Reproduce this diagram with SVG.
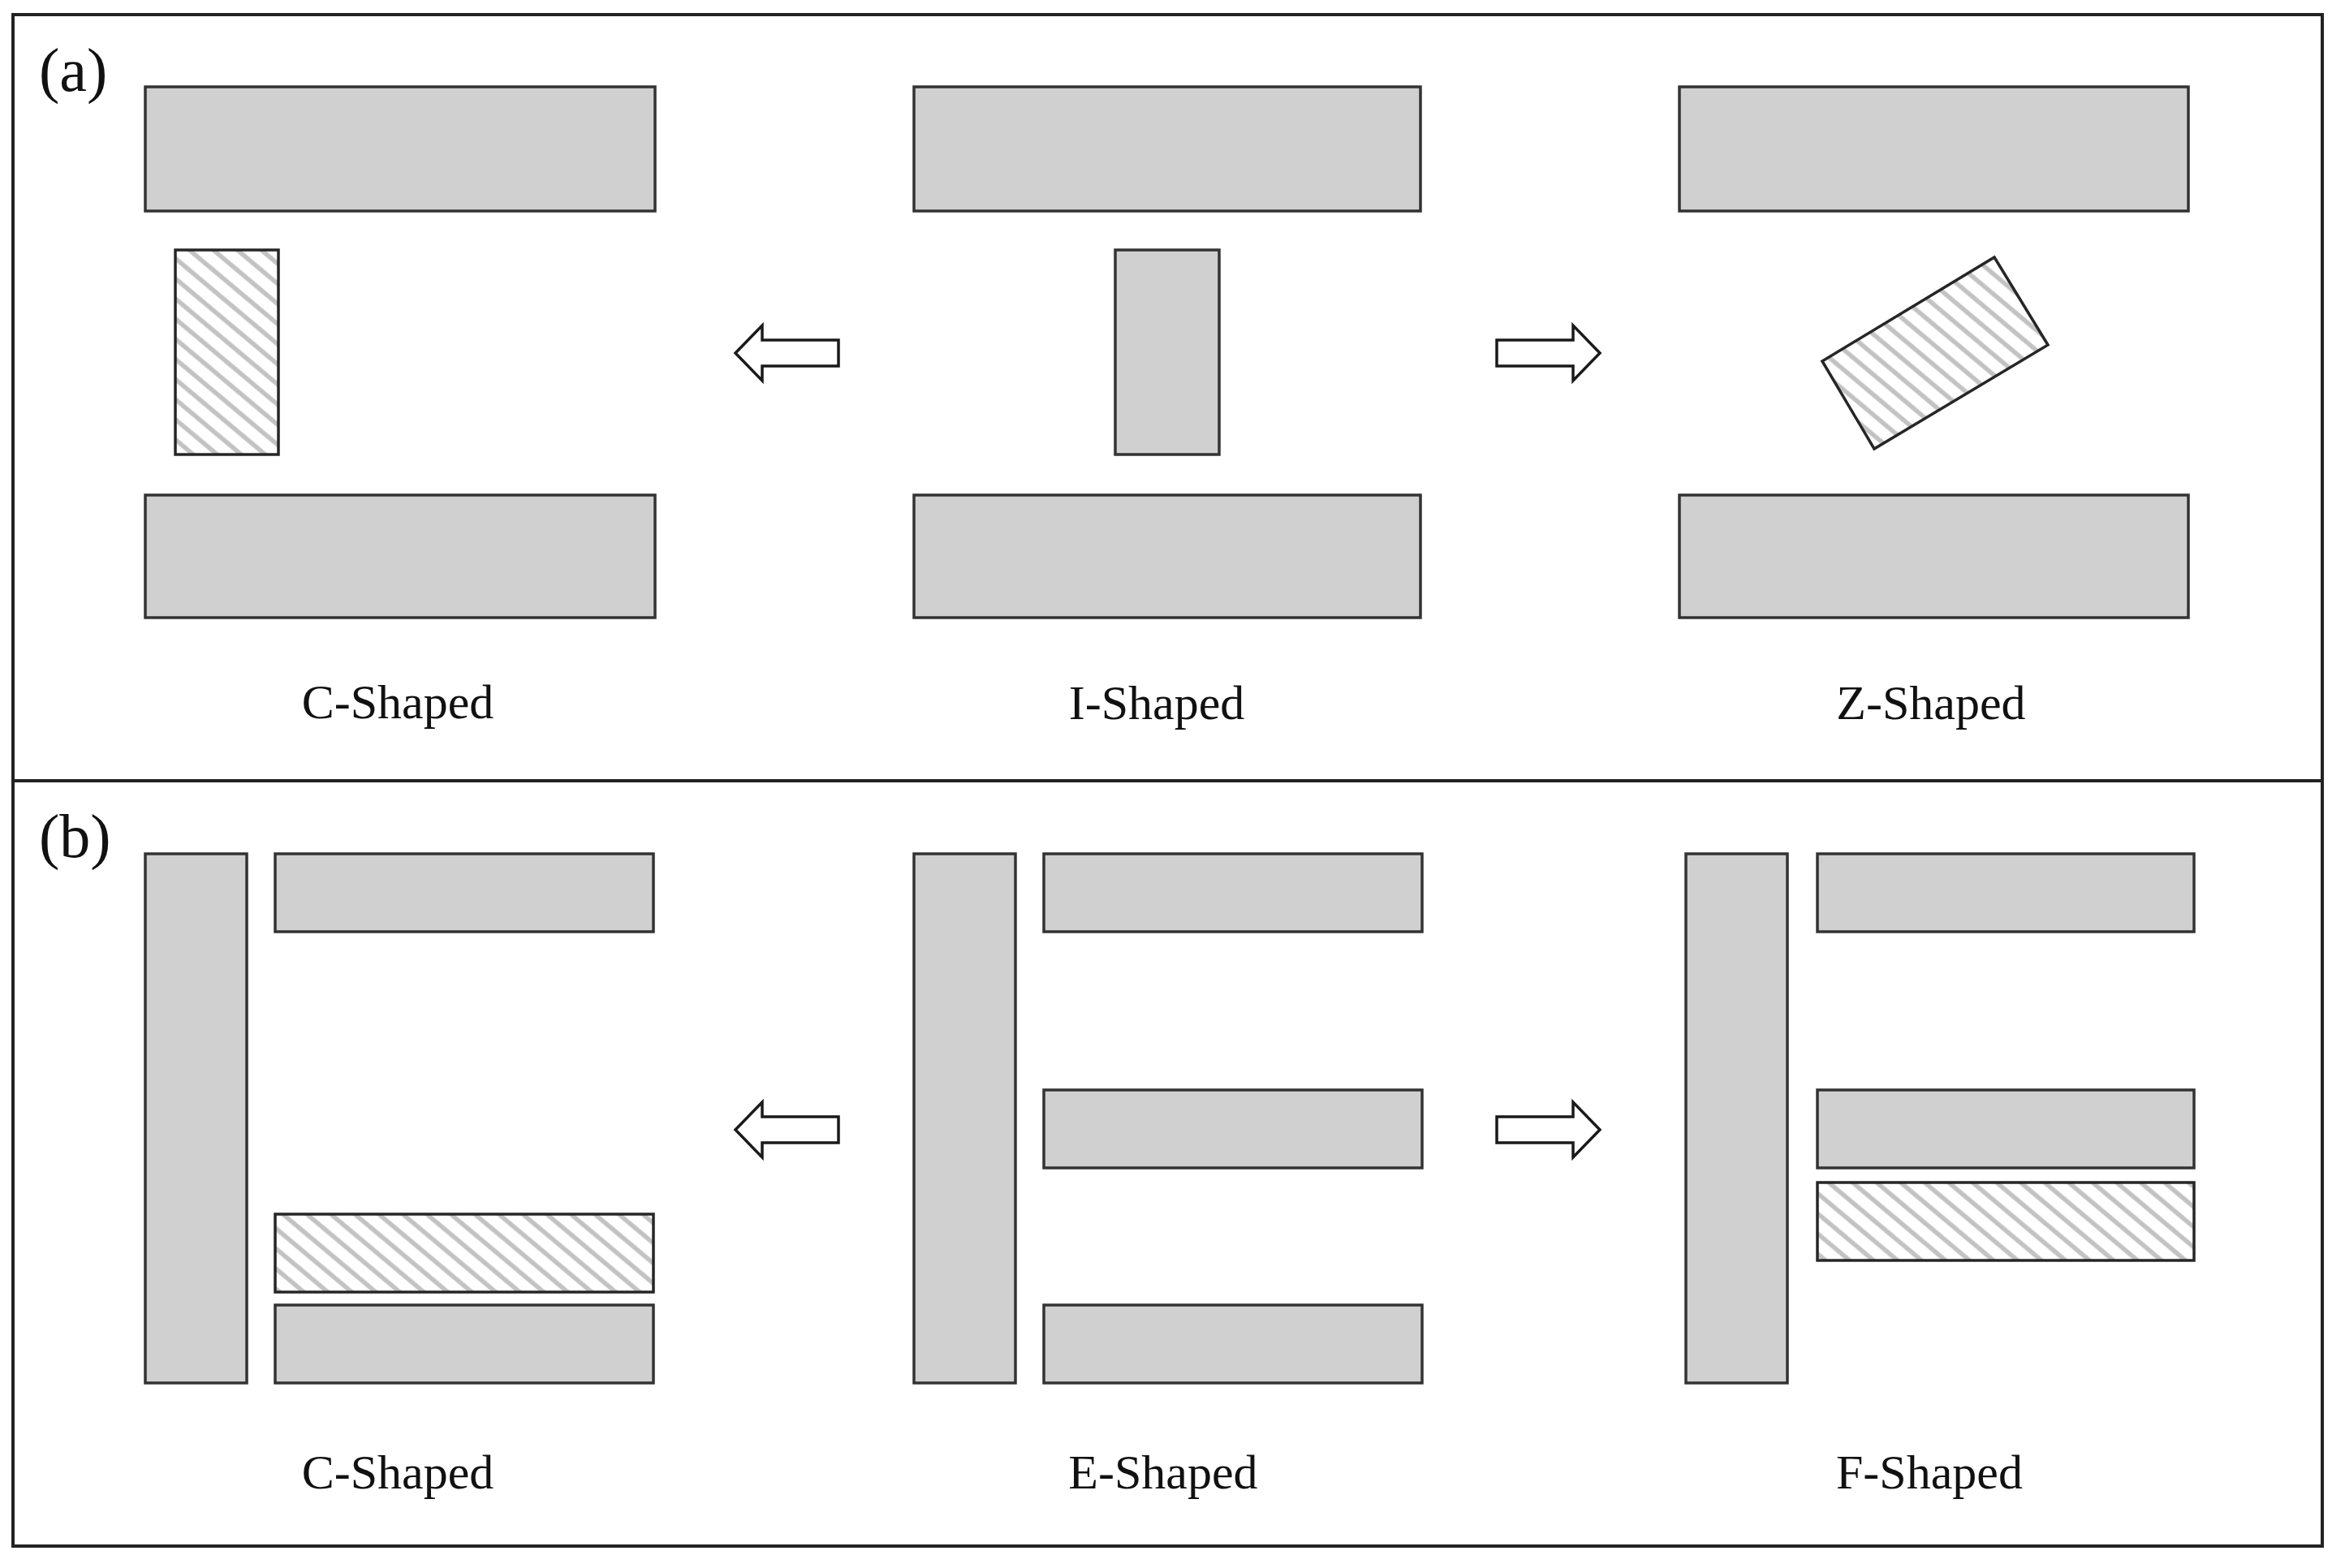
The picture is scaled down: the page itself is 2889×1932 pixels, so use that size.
<svg xmlns="http://www.w3.org/2000/svg" width="2889" height="1932" viewBox="0 0 2889 1932">
<defs>
<pattern id="hatch" patternUnits="userSpaceOnUse" width="19" height="19" patternTransform="rotate(-50)">
<rect width="19" height="19" fill="#ffffff"/>
<line x1="9" y1="0" x2="9" y2="19" stroke="#c2c2c2" stroke-width="5.5"/>
</pattern>
<polygon id="arrowL" points="0,0 33,-34 33,-16 127,-16 127,16 33,16 33,34"/>
<polygon id="arrowR" points="0,0 -33,-34 -33,-16 -127,-16 -127,16 -33,16 -33,34"/>
</defs>
<style>
.blk{fill:#d0d0d0;stroke:#333333;stroke-width:3.5}
.hat{fill:url(#hatch);stroke:#262626;stroke-width:3.5}
.arr{fill:#ffffff;stroke:#1a1a1a;stroke-width:3.5;stroke-linejoin:miter}
.lbl{font-family:"Liberation Serif","Times New Roman",serif;font-size:60px;fill:#111111;text-anchor:middle}
.pan{font-family:"Liberation Serif","Times New Roman",serif;font-size:76px;fill:#111111}
.frame{fill:none;stroke:#222222;stroke-width:4}
</style>
<rect width="2889" height="1932" fill="#ffffff"/>
<g id="frame">
<rect class="frame" x="16" y="18" width="2845" height="1887"/>
<line class="frame" x1="16" y1="962" x2="2861" y2="962"/>
</g>
<text class="pan" x="48" y="112">(a)</text>
<text class="pan" x="48" y="1056">(b)</text>

<g id="a-C">
<rect class="blk" x="179" y="107" width="628" height="153"/>
<rect class="hat" x="216" y="308" width="127" height="252"/>
<rect class="blk" x="179" y="610" width="628" height="151"/>
<text class="lbl" x="490" y="885">C-Shaped</text>
</g>
<g id="a-I">
<rect class="blk" x="1126" y="107" width="624" height="153"/>
<rect class="blk" x="1374" y="308" width="128" height="252"/>
<rect class="blk" x="1126" y="610" width="624" height="151"/>
<text class="lbl" x="1425" y="886">I-Shaped</text>
</g>
<g id="a-Z">
<rect class="blk" x="2069" y="107" width="627" height="153"/>
<polygon class="hat" points="2245,445 2457,317 2523,425 2309,553"/>
<rect class="blk" x="2069" y="610" width="627" height="151"/>
<text class="lbl" x="2379" y="886">Z-Shaped</text>
</g>

<g id="b-C">
<rect class="blk" x="179" y="1052" width="125" height="652"/>
<rect class="blk" x="339" y="1052" width="466" height="96"/>
<rect class="hat" x="339" y="1496" width="466" height="96"/>
<rect class="blk" x="339" y="1608" width="466" height="96"/>
<text class="lbl" x="490" y="1834">C-Shaped</text>
</g>
<g id="b-E">
<rect class="blk" x="1126" y="1052" width="125" height="652"/>
<rect class="blk" x="1286" y="1052" width="466" height="96"/>
<rect class="blk" x="1286" y="1343" width="466" height="96"/>
<rect class="blk" x="1286" y="1608" width="466" height="96"/>
<text class="lbl" x="1433" y="1834">E-Shaped</text>
</g>
<g id="b-F">
<rect class="blk" x="2077" y="1052" width="125" height="652"/>
<rect class="blk" x="2239" y="1052" width="464" height="96"/>
<rect class="blk" x="2239" y="1343" width="464" height="96"/>
<rect class="hat" x="2239" y="1457" width="464" height="96"/>
<text class="lbl" x="2377" y="1834">F-Shaped</text>
</g>

<g id="connectors">
<use href="#arrowL" class="arr" x="906" y="435"/>
<use href="#arrowR" class="arr" x="1971" y="435"/>
<use href="#arrowL" class="arr" x="906" y="1392"/>
<use href="#arrowR" class="arr" x="1971" y="1392"/>
</g>
</svg>
